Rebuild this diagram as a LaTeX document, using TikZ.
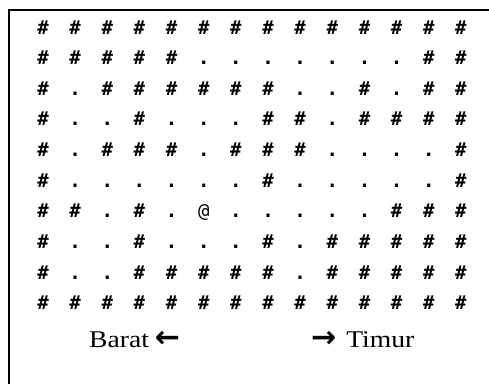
\documentclass[tikz,border=0pt]{standalone}
\usepackage{fontspec}
\setmainfont{Liberation Serif}
\newfontfamily\gridfont{DejaVu Sans Mono}
\newfontfamily\arrowfont{DejaVu Sans}
\newfontfamily\labelfont[FakeStretch=1.15]{Liberation Serif}
\def\gH{{\bfseries\#}}
\def\go{{\bfseries.}}
\def\gA{@}
\begin{document}
\begin{tikzpicture}[x=1pt,y=-1pt,
  cell/.style={anchor=base,inner sep=0pt,font=\gridfont\fontsize{19}{20}\selectfont},
  dirlabel/.style={anchor=base west,inner sep=0pt,font=\labelfont\fontsize{24}{26}\selectfont},
  frame/.style={line width=2pt}]
\useasboundingbox (0,0) rectangle (489,384);
\fill[white] (0,0) rectangle (489,384);
\coordinate (fb) at (9,384);
\coordinate (fc) at (9,10);
\coordinate (fr) at (489,10);
\draw[frame] (fb) -- (fc) -- (fr);
\foreach \row [count=\j from 0] in {
  {H,H,H,H,H,H,H,H,H,H,H,H,H,H},
  {H,H,H,H,H,o,o,o,o,o,o,o,H,H},
  {H,o,H,H,H,H,H,H,o,o,H,o,H,H},
  {H,o,o,H,o,o,o,H,H,o,H,H,H,H},
  {H,o,H,H,H,o,H,H,H,o,o,o,o,H},
  {H,o,o,o,o,o,o,H,o,o,o,o,o,H},
  {H,H,o,H,o,A,o,o,o,o,o,H,H,H},
  {H,o,o,H,o,o,o,H,o,H,H,H,H,H},
  {H,o,o,H,H,H,H,H,o,H,H,H,H,H},
  {H,H,H,H,H,H,H,H,H,H,H,H,H,H}}{
  \foreach \c [count=\i from 0] in \row {
    \node[cell] (c\j-\i) at ({43+32.15*\i},{29+30.65*\j+5}) {\csname g\c\endcsname};
  }
}
\node[dirlabel] (west) at (89,347) {Barat\hspace{6pt}{\arrowfont\bfseries\fontsize{30}{30}\selectfont ←}};
\node[dirlabel] (east) at (311,347) {{\arrowfont\bfseries\fontsize{30}{30}\selectfont →}\hspace{10pt}Timur};
\end{tikzpicture}
\end{document}
